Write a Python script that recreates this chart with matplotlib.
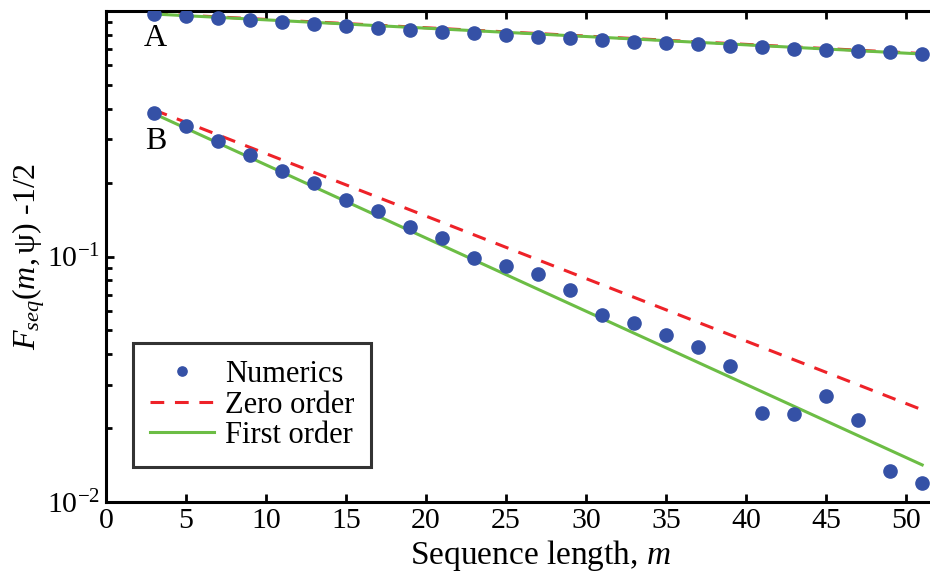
import matplotlib
matplotlib.use("Agg")
import matplotlib.pyplot as plt
from matplotlib.ticker import LogLocator, NullFormatter, FixedLocator

plt.rcParams['font.family'] = ['Liberation Serif', 'DejaVu Serif']
plt.rcParams['mathtext.fontset'] = 'custom'
plt.rcParams['mathtext.rm'] = 'Liberation Serif'
plt.rcParams['mathtext.it'] = 'Liberation Serif:italic'
plt.rcParams['mathtext.bf'] = 'Liberation Serif:bold'

# ---- data ----
m_num = [3, 5, 7, 9, 11, 13, 15, 17, 19, 21, 23, 25, 27, 29, 31, 33, 35, 37, 39, 41, 43, 45, 47, 49, 51]
numA = [0.972, 0.954, 0.936, 0.919, 0.902, 0.885, 0.869, 0.852, 0.836, 0.821, 0.813, 0.798, 0.783,
        0.776, 0.761, 0.747, 0.740, 0.733, 0.720, 0.713, 0.700, 0.693, 0.687, 0.680, 0.668]
numB = [0.3835, 0.339, 0.2955, 0.259, 0.223, 0.199, 0.170, 0.1527, 0.1317, 0.1188, 0.0988, 0.0913,
        0.0847, 0.0729, 0.0578, 0.0538, 0.0480, 0.0429, 0.0357, 0.0231, 0.0229, 0.0269, 0.0216,
        0.01342, 0.01192]
m_line = [3, 51]
zeroA = [0.976, 0.671]
firstA = [0.972, 0.668]
zeroB = [0.3955, 0.02374]
firstB = [0.3817, 0.01416]

xticks = [0, 5, 10, 15, 20, 25, 30, 35, 40, 45, 50]

blue = '#3551a6'
red = '#ee2228'
green = '#6cbd45'

fig = plt.figure(figsize=(9.30, 5.71), dpi=100)
ax = fig.add_axes([106/930, (571-502)/571, 869/930, (502-11)/571])

ax.plot(m_line, zeroA, color=red, lw=2.2, dashes=(4.5, 3.5), zorder=2)
ax.plot(m_line, firstA, color=green, lw=2.2, zorder=3)
ax.plot(m_line, zeroB, color=red, lw=2.2, dashes=(4.5, 3.5), zorder=2, label='Zero order')
ax.plot(m_line, firstB, color=green, lw=2.2, zorder=3, label='First order')
ax.plot(m_num, numA, 'o', color=blue, ms=9.5, mec=blue, zorder=4)
ax.plot(m_num, numB, 'o', color=blue, ms=9.5, mec=blue, zorder=4, label='Numerics')

ax.set_yscale('log')
ax.set_ylim(0.01, 1.0)
ax.set_xlim(0, 54.3)
ax.xaxis.set_major_locator(FixedLocator(xticks))
ax.set_yticks([0.01, 0.1])
ax.set_yticklabels([r'$\mathregular{10^{-2}}$', r'$\mathregular{10^{-1}}$'])
ax.yaxis.set_minor_locator(LogLocator(base=10, subs=range(2, 10)))
ax.yaxis.set_minor_formatter(NullFormatter())

for s in ax.spines.values():
    s.set_linewidth(2.2)
ax.spines['right'].set_visible(False)
ax.tick_params(which='both', direction='in', top=True, right=False, width=2.0)
ax.tick_params(which='major', length=6, labelsize=21.5, pad=4)
ax.tick_params(which='minor', length=4.5)

ax.set_xlabel(r'Sequence length, $m$', fontsize=24, labelpad=3)
ax.set_ylabel(r'$F_{seq}(m,\mathrm{\psi})$ $\mathit{' + '\u2010' + r'1/2}$', fontsize=23, labelpad=0)

ax.text(3.1, 0.776, 'A', fontsize=23, ha='center', va='center')
ax.text(3.1, 0.2946, 'B', fontsize=23, ha='center', va='center')

h, l = ax.get_legend_handles_labels()
order = [2, 0, 1]
leg = ax.legend([h[i] for i in order], [l[i] for i in order], loc='lower left',
                bbox_to_anchor=(133/930, (571-467)/571), bbox_transform=fig.transFigure,
                borderaxespad=0, fontsize=22, frameon=True, fancybox=False,
                handlelength=2.1, handletextpad=0.35, labelspacing=0.05, borderpad=0.55,
                markerscale=0.7)
leg.get_frame().set_edgecolor('black')
leg.get_frame().set_linewidth(2.2)

fig.savefig('out.png', dpi=100)
